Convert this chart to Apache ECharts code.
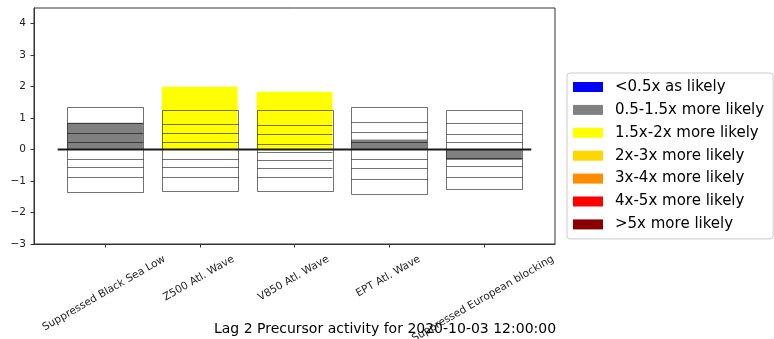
<!DOCTYPE html>
<html>
<head>
<meta charset="utf-8">
<script src="https://cdn.jsdelivr.net/npm/echarts@6/dist/echarts.min.js"></script>
<style>
html,body{margin:0;padding:0;background:#fff;}
#chart{width:774px;height:339px;}
</style>
</head>
<body>
<div id="chart"></div>
<script>
// ---------- data ----------
const categories = ['Suppressed Black Sea Low', 'Z500 Atl. Wave', 'V850 Atl. Wave', 'EPT Atl. Wave', 'Suppressed European blocking'];
// outline levels of the stacked boxes (top to bottom), per category
const levelsBlackSea = [1.34, 0.85, 0.52, 0.23, -0.30, -0.56, -0.88, -1.35];
const levelsZ500     = [1.27, 0.82, 0.52, 0.23, -0.30, -0.56, -0.88, -1.32];
const levelsV850     = [1.27, 0.79, 0.48, 0.19, -0.07, -0.32, -0.57, -0.88, -1.29];
const levelsEPT      = [1.34, 0.89, 0.57, 0.24, -0.31, -0.59, -0.94, -1.43];
const levelsEuroBlk  = [1.27, 0.83, 0.49, 0.23, -0.28, -0.52, -0.88, -1.25];
const boxLevels = [levelsBlackSea, levelsZ500, levelsV850, levelsEPT, levelsEuroBlk];
// current activity value and its likelihood class (index into legend)
const fillValues  = [0.85, 2.0, 1.84, 0.32, -0.33];
const fillClasses = [1, 2, 2, 1, 1];
const legendLabels = ['<0.5x as likely', '0.5-1.5x more likely', '1.5x-2x more likely', '2x-3x more likely', '3x-4x more likely', '4x-5x more likely', '>5x more likely'];
const legendColors = ['#0000ff', '#808080', '#ffff00', '#ffd700', '#ff8c00', '#ff0000', '#8b0000'];
const yTicks = [-3, -2, -1, 0, 1, 2, 3, 4];
const xTicks = [0, 1, 2, 3, 4];
const zeroLineSpan = [-0.5, 4.5];
const titleText = 'Lag 2 Precursor activity for 2020-10-03 12:00:00';

// ---------- chart ----------
const X_MIN = -0.75, X_MAX = 4.75, Y_MIN = -3, Y_MAX = 4.5;
const HALF_W = 0.4;
const FONT = '"DejaVu Sans", "Liberation Sans", sans-serif';
const LBL_SIZE = 10.5;
const measureCtx = document.createElement('canvas').getContext('2d');
measureCtx.font = LBL_SIZE + 'px ' + FONT;

const chart = echarts.init(document.getElementById('chart'), null, {renderer: 'canvas'});

const series = [];
// filled activity bars
series.push({
  type: 'custom', name: 'fill', silent: true, z: 2,
  data: categories.map((c, i) => [i, fillValues[i], fillClasses[i]]),
  encode: {x: 0, y: 1},
  renderItem: function (params, api) {
    const i = api.value(0), v = api.value(1), cls = api.value(2);
    const a = api.coord([i - HALF_W, 0]);
    const b = api.coord([i + HALF_W, v]);
    return {
      type: 'rect',
      shape: {x: a[0], y: Math.min(a[1], b[1]), width: b[0] - a[0], height: Math.abs(b[1] - a[1])},
      style: {fill: legendColors[cls]}
    };
  }
});
// outlined boxes
series.push({
  type: 'custom', name: 'boxes', silent: true, z: 3,
  data: categories.map((c, i) => [i, boxLevels[i][0], boxLevels[i][boxLevels[i].length - 1]]),
  encode: {x: 0, y: [1, 2]},
  renderItem: function (params, api) {
    const i = api.value(0);
    const lv = boxLevels[i];
    const stroke = 'rgba(0,0,0,0.55)';
    const children = [];
    const tl = api.coord([i - HALF_W, lv[0]]);
    const br = api.coord([i + HALF_W, lv[lv.length - 1]]);
    children.push({
      type: 'rect',
      shape: {x: Math.round(tl[0]) + 0.5, y: Math.round(tl[1]) + 0.5, width: Math.round(br[0] - tl[0]), height: Math.round(br[1] - tl[1])},
      style: {fill: null, stroke: stroke, lineWidth: 1}
    });
    for (let k = 1; k < lv.length - 1; k++) {
      const p = api.coord([i - HALF_W, lv[k]]);
      const q = api.coord([i + HALF_W, lv[k]]);
      const yy = Math.round(p[1]) + 0.5;
      children.push({
        type: 'line',
        shape: {x1: Math.round(p[0]) + 0.5, y1: yy, x2: Math.round(q[0]) + 0.5, y2: yy},
        style: {stroke: stroke, lineWidth: 1}
      });
    }
    return {type: 'group', children: children};
  }
});
// zero line
series.push({
  type: 'line', name: 'zero', silent: true, z: 5, symbol: 'none',
  data: [[zeroLineSpan[0], 0], [zeroLineSpan[1], 0]],
  lineStyle: {color: '#1a1a1a', width: 2}
});
// x tick labels (rotated, centred under ticks like matplotlib)
series.push({
  type: 'custom', name: 'xlabels', silent: true, clip: false, z: 6,
  data: categories.map((c, i) => [i, Y_MIN]),
  encode: {x: 0, y: 1},
  renderItem: function (params, api) {
    const i = api.value(0);
    const p = api.coord([i, Y_MIN]);
    const text = categories[i];
    const L = measureCtx.measureText(text).width;
    const h = LBL_SIZE * 1.17;
    const ang = Math.PI / 6;
    const H = L * Math.sin(ang) + h * Math.cos(ang);
    const top = p[1] + 9;
    return {
      type: 'text',
      x: p[0] - 1, y: top + H / 2,
      rotation: ang,
      style: {text: text, fontSize: LBL_SIZE, fontFamily: FONT, fill: '#222', align: 'center', verticalAlign: 'middle'}
    };
  }
});
// legend-only series
legendLabels.forEach((name, k) => {
  series.push({type: 'bar', name: name, data: [], itemStyle: {color: legendColors[k]}});
});

const option = {
  animation: false,
  backgroundColor: '#ffffff',
  title: {
    text: titleText, left: 385, top: 322, textAlign: 'center', padding: 0,
    textStyle: {fontSize: 14, fontWeight: 'normal', color: '#000', fontFamily: FONT}
  },
  grid: {left: 34, right: 219, top: 8, bottom: 95, show: true, borderColor: '#333', borderWidth: 1, backgroundColor: 'transparent'},
  xAxis: {
    type: 'value', min: X_MIN, max: X_MAX,
    axisLine: {show: true, onZero: false, lineStyle: {color: '#333', width: 1}},
    axisTick: {show: true, length: 3.5, customValues: xTicks, lineStyle: {color: '#333'}},
    axisLabel: {show: false},
    splitLine: {show: false}
  },
  yAxis: {
    type: 'value', min: Y_MIN, max: Y_MAX,
    axisLine: {show: true, onZero: false, lineStyle: {color: '#333', width: 1}},
    axisTick: {show: true, length: 3.5, customValues: yTicks, lineStyle: {color: '#333'}},
    axisLabel: {
      customValues: yTicks, margin: 8, fontSize: LBL_SIZE, fontFamily: FONT, color: '#222',
      formatter: v => (v < 0 ? '\u2212' + Math.abs(v) : String(v))
    },
    splitLine: {show: false}
  },
  legend: {
    orient: 'vertical', left: 567, top: 73,
    padding: [5.5, 9, 6, 6],
    itemWidth: 30, itemHeight: 10, itemGap: 5.9, icon: 'rect',
    backgroundColor: '#ffffff', borderColor: '#cccccc', borderWidth: 1, borderRadius: 3,
    selectedMode: false,
    textStyle: {fontSize: 15, fontFamily: FONT, color: '#000', lineHeight: 17, padding: [0, 0, 0, 7]},
    data: legendLabels
  },
  series: series
};
chart.setOption(option);
</script>
</body>
</html>
